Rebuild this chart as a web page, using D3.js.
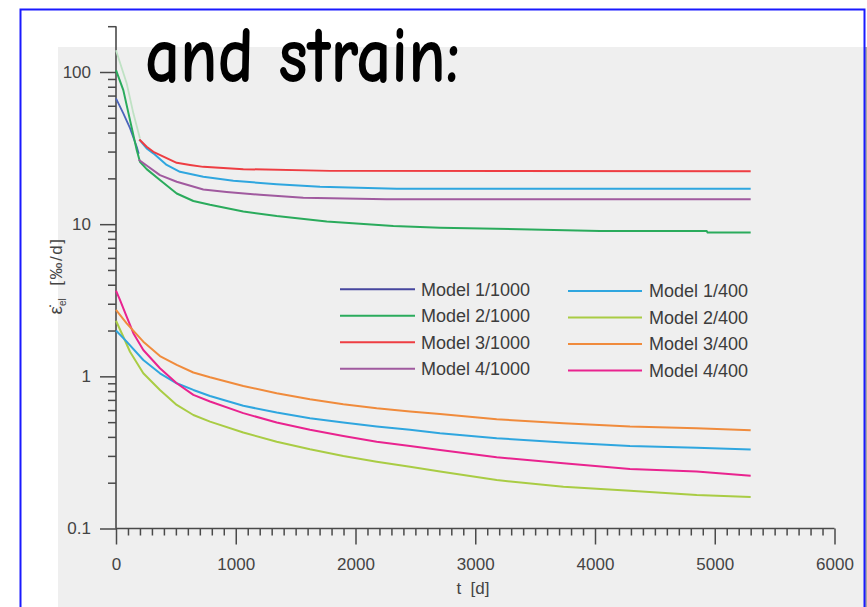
<!DOCTYPE html>
<html><head><meta charset="utf-8">
<script src="https://cdn.jsdelivr.net/npm/d3@7/dist/d3.min.js"></script>
<style>body{margin:0;background:#fff}svg{display:block}</style>
</head><body>
<script>
// ---------- data ----------
const xMajorTicks = [0, 1000, 2000, 3000, 4000, 5000, 6000];
const yMajorTicks = [0.1, 1, 10, 100];
const yTickLabels = ["0.1", "1", "10", "100"];
const legendNames = ["Model 1/1000", "Model 2/1000", "Model 3/1000", "Model 4/1000",
                     "Model 1/400", "Model 2/400", "Model 3/400", "Model 4/400"];
const legendColors = ["#46469e", "#2aab5c", "#ee3d42", "#a05a9f",
                      "#2fa6df", "#a9cc44", "#f08b3c", "#e9238f"];

// upper group (Model x/1000)
const faintT = [0, 89, 145, 200];
const faintV = [139, 84.3, 53.5, 36.6];
const m1k1EarlyT = [0, 61, 117, 173, 190];
const m1k1EarlyV = [67, 53.5, 42.7, 32.3, 29];
const m1k1T = [195, 256, 312, 423, 534, 729, 980, 1342, 1704, 2344, 5300];
const m1k1V = [36, 31.5, 29.2, 24.5, 22.1, 20.5, 19.3, 18.3, 17.6, 17.1, 17.1];
const m2k1T = [0, 61, 117, 173, 200, 256, 367, 507, 646, 785, 1063, 1342, 1760, 2316, 2706, 4042, 4933, 4940, 5300];
const m2k1V = [103, 76, 48.3, 30.7, 25.7, 23.0, 19.5, 15.9, 14.2, 13.4, 12.1, 11.3, 10.4, 9.73, 9.49, 9.02, 9.02, 8.8, 8.8];
const m3k1T = [195, 256, 312, 507, 618, 729, 1063, 1787, 5300];
const m3k1V = [36, 32.3, 29.9, 25.3, 24.5, 23.8, 23.0, 22.4, 22.3];
const m4k1T = [190, 256, 367, 507, 729, 924, 1203, 1564, 2260, 5300];
const m4k1V = [26.5, 24.3, 21.0, 19.0, 16.9, 16.3, 15.6, 14.9, 14.6, 14.6];

// lower group (Model x/400)
const lowT = [0, 89, 228, 367, 507, 646, 785, 1063, 1342, 1620, 1898, 2177, 2455, 2706, 3179, 3736, 4292, 4849, 5300];
const m1_400V = [2.0, 1.69, 1.28, 1.047, 0.90, 0.814, 0.743, 0.64, 0.578, 0.531, 0.497, 0.468, 0.445, 0.423, 0.392, 0.367, 0.349, 0.340, 0.330];
const m3_400V = [2.73, 2.23, 1.69, 1.36, 1.19, 1.06, 0.986, 0.865, 0.774, 0.707, 0.656, 0.617, 0.588, 0.566, 0.522, 0.492, 0.468, 0.456, 0.442];
const m2_400T = [0, 61, 117, 228, 367, 507, 646, 785, 1063, 1342, 1620, 1898, 2177, 2455, 2706, 3179, 3736, 4292, 4849, 5300];
const m2_400V = [2.32, 1.82, 1.45, 1.047, 0.814, 0.649, 0.557, 0.504, 0.427, 0.372, 0.332, 0.300, 0.275, 0.255, 0.237, 0.208, 0.188, 0.177, 0.166, 0.161];
const m4_400T = [0, 33, 89, 145, 228, 367, 507, 646, 785, 1063, 1342, 1620, 1898, 2177, 2455, 2706, 3179, 3736, 4292, 4849, 5300];
const m4_400V = [3.66, 3.18, 2.47, 1.92, 1.49, 1.13, 0.90, 0.755, 0.683, 0.573, 0.497, 0.445, 0.406, 0.372, 0.349, 0.328, 0.294, 0.268, 0.246, 0.237, 0.222];

// ---------- drawing ----------
const W = 867, H = 607;
const svg = d3.select("body").append("svg").attr("width", W).attr("height", H);

// slide frame and plot background
svg.append("rect").attr("x", 58).attr("y", 47).attr("width", 807).attr("height", 570).attr("fill", "#efefef");
svg.append("line").attr("x1", 866).attr("x2", 866).attr("y1", 47).attr("y2", H).attr("stroke", "#8a8a8a").attr("stroke-width", 1.5);
svg.append("rect").attr("x", 20.5).attr("y", 9.5).attr("width", 844).attr("height", 640)
  .attr("fill", "none").attr("stroke", "#1a1aff").attr("stroke-width", 2);

const x = d3.scaleLinear().domain([0, 6000]).range([116, 834.5]);
const y = d3.scaleLog().domain([0.1, 200]).range([528.5, 26.2]);

const axisColor = "#4a4a4a";
const font = "'Liberation Sans', Arial, 'DejaVu Sans', sans-serif";

// minor ticks
const yMinor = [];
[0.1, 1, 10].forEach(d => { for (let k = 2; k <= 9; k++) yMinor.push(+(d * k).toPrecision(3)); });
yMinor.push(200);
const xMinor = d3.range(0, 6001, 100).filter(v => v % 1000 !== 0);

const gy = svg.append("g").attr("transform", "translate(116,0)");
gy.call(d3.axisLeft(y).tickValues(yMinor).tickSize(8).tickFormat(""));
gy.call(g => g.select(".domain").remove());
const gyMaj = svg.append("g").attr("transform", "translate(116,0)");
gyMaj.call(d3.axisLeft(y).tickValues(yMajorTicks).tickSize(16).tickPadding(9)
  .tickFormat((d, i) => yTickLabels[i]));
gyMaj.select(".domain").remove();

const gx = svg.append("g").attr("transform", "translate(0,528.5)");
gx.call(d3.axisBottom(x).tickValues(xMinor).tickSize(7).tickFormat(""));
gx.select(".domain").remove();
const gxMaj = svg.append("g").attr("transform", "translate(0,528.5)");
gxMaj.call(d3.axisBottom(x).tickValues(xMajorTicks).tickSize(16).tickPadding(13).tickFormat(d3.format("d")));
gxMaj.select(".domain").remove();

// axis lines
svg.append("line").attr("x1", 116).attr("x2", 116).attr("y1", y(200)).attr("y2", y(0.1))
  .attr("stroke", axisColor).attr("stroke-width", 1.6);
svg.append("line").attr("x1", x(0)).attr("x2", x(6000)).attr("y1", 528.5).attr("y2", 528.5)
  .attr("stroke", axisColor).attr("stroke-width", 1.6);

svg.selectAll(".tick line").attr("stroke", axisColor).attr("stroke-width", 1.5);
svg.selectAll(".tick text").attr("fill", "#444").style("font-family", font).style("font-size", "17px");

// axis titles
svg.append("text").attr("x", 473).attr("y", 594).attr("text-anchor", "middle")
  .attr("fill", "#444").style("font-family", font).style("font-size", "17px")
  .attr("xml:space", "preserve").text("t  [d]");
const yl = svg.append("text").attr("transform", "translate(62,276) rotate(-90)")
  .attr("text-anchor", "middle").attr("fill", "#444").style("font-family", font);
yl.append("tspan").style("font-size", "19px").text("\u03B5\u0307");
yl.append("tspan").style("font-size", "10px").attr("dy", 4).text("el");
yl.append("tspan").style("font-size", "17px").attr("dy", -4).style("letter-spacing", "1.5px")
  .attr("xml:space", "preserve").text("  [\u2030/d]");

// lines
const line = d3.line().x(d => x(d[0])).y(d => y(d[1])).curve(d3.curveLinear);
const zip = (t, v) => t.map((tt, i) => [tt, v[i]]);
const series = [
  { pts: zip(faintT, faintV), color: "#bfe2c4", w: 1.8 },
  { pts: zip(m1k1EarlyT, m1k1EarlyV), color: "#4a64bb", w: 1.8 },
  { pts: zip(m2k1T, m2k1V), color: legendColors[1], w: 2 },
  { pts: zip(m4k1T, m4k1V), color: legendColors[3], w: 2 },
  { pts: zip(m1k1T, m1k1V), color: legendColors[4], w: 2 },
  { pts: zip(m3k1T, m3k1V), color: legendColors[2], w: 2 },
  { pts: zip(m2_400T, m2_400V), color: legendColors[5], w: 2 },
  { pts: zip(lowT, m1_400V), color: legendColors[4], w: 2 },
  { pts: zip(m4_400T, m4_400V), color: legendColors[7], w: 2 },
  { pts: zip(lowT, m3_400V), color: legendColors[6], w: 2 }
];
svg.append("g").selectAll("path").data(series).join("path")
  .attr("d", d => line(d.pts)).attr("fill", "none")
  .attr("stroke", d => d.color).attr("stroke-width", d => d.w)
  .attr("stroke-linejoin", "round");

// legend
const lg = svg.append("g");
legendNames.forEach((name, i) => {
  const col = i < 4 ? 0 : 1;
  const row = i % 4;
  const ly = (col === 0 ? 289.3 : 291) + row * 26.5;
  const lx0 = col === 0 ? 340 : 568;
  const lx1 = col === 0 ? 415 : 642;
  const tx = col === 0 ? 421 : 649;
  lg.append("line").attr("x1", lx0).attr("x2", lx1).attr("y1", ly).attr("y2", ly)
    .attr("stroke", legendColors[i]).attr("stroke-width", 2);
  lg.append("text").attr("x", tx).attr("y", ly).attr("dy", "0.36em")
    .attr("fill", "#3c3c3c").style("font-family", font).style("font-size", "18px").text(name);
});

// slide title
svg.append("text").attr("x", 145).attr("y", 82)
  .attr("textLength", 315).attr("lengthAdjust", "spacingAndGlyphs")
  .attr("font-family", "'Comic Sans MS', 'Comic Neue', 'DejaVu Sans', sans-serif")
  .attr("font-weight", "700")
  .attr("font-size", 80).attr("fill", "#000").text("and strain:");
</script>
</body></html>
